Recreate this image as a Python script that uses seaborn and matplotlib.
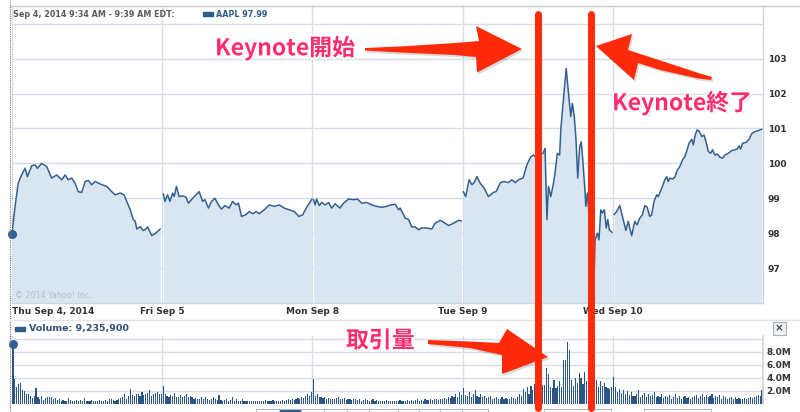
import numpy as np
import pandas as pd
import matplotlib
matplotlib.use("Agg")
import matplotlib.pyplot as plt
import matplotlib.patheffects as pe
from matplotlib.patches import Polygon, Rectangle
from matplotlib.lines import Line2D
import seaborn as sns

# AAPL intraday, Sep 4-10 2014 (minutes after the 9:30 open, price in $)
days = ["Thu Sep 4, 2014", "Fri Sep 5", "Mon Sep 8", "Tue Sep 9", "Wed Sep 10"]

t_thu = [0, 8, 16, 25, 34, 40, 51, 60, 66, 77, 90, 103, 116, 129, 138, 146, 155, 164, 172, 181,
         190, 198, 207, 216, 229, 246, 259, 268, 281, 291, 298, 307, 315, 320, 324, 333, 340, 346,
         352, 363, 372, 385]
p_thu = [97.99, 98.77, 99.43, 99.67, 99.86, 99.62, 99.93, 99.96, 99.86, 100.0, 99.91, 99.58, 99.67,
         99.53, 99.67, 99.53, 99.58, 99.43, 99.19, 99.17, 99.48, 99.51, 99.39, 99.48, 99.41, 99.34,
         99.19, 99.10, 99.15, 99.10, 98.91, 98.67, 98.39, 98.34, 98.12, 98.19, 98.08, 98.10, 98.18,
         97.93, 97.99, 98.12]

t_fri = [3, 7, 14, 20, 27, 31, 37, 44, 53, 62, 68, 79, 96, 105, 111, 120, 128, 137, 146, 154, 163,
         174, 183, 192, 198, 206, 217, 226, 235, 244, 252, 265, 278, 291, 304, 317, 330, 343, 355,
         365, 374, 382, 389]
p_fri = [99.13, 98.91, 99.10, 98.91, 99.15, 99.05, 99.34, 99.05, 99.07, 99.03, 98.86, 99.00, 99.19,
         98.91, 98.96, 98.72, 98.91, 99.00, 98.81, 98.69, 98.79, 98.72, 98.91, 98.81, 98.86, 98.48,
         98.53, 98.62, 98.56, 98.62, 98.56, 98.67, 98.81, 98.77, 98.81, 98.72, 98.67, 98.62, 98.48,
         98.53, 98.72, 98.86, 98.98]

t_mon = [3, 7, 11, 18, 24, 33, 42, 50, 59, 72, 81, 94, 107, 117, 128, 141, 154, 167, 180, 193, 204,
         215, 224, 228, 241, 250, 258, 267, 276, 284, 297, 310, 319, 332, 341, 354, 367, 380, 387]
p_mon = [98.96, 98.81, 98.98, 98.79, 98.88, 98.81, 98.88, 98.72, 98.84, 98.72, 98.86, 98.98, 98.96,
         98.98, 98.86, 98.88, 98.81, 98.77, 98.74, 98.77, 98.81, 98.83, 98.67, 98.72, 98.43, 98.39,
         98.18, 98.18, 98.10, 98.15, 98.15, 98.12, 98.29, 98.37, 98.31, 98.22, 98.29, 98.37, 98.35]

t_tue = [2, 8, 17, 24, 30, 37, 46, 56, 67, 80, 87, 98, 108, 119, 128, 137, 145, 157, 167, 177, 184,
         189, 196, 209, 214, 219, 223, 229, 236, 240, 246, 252, 255, 260, 264, 269, 275, 281, 285,
         290, 294, 299, 304, 308, 312, 317, 320, 324, 332, 337, 342, 344, 350, 354, 359, 363, 368,
         373, 377, 381, 388]
p_tue = [99.19, 99.05, 99.53, 99.39, 99.45, 99.62, 99.43, 99.29, 99.05, 99.17, 99.19, 99.45, 99.48,
         99.45, 99.53, 99.45, 99.53, 99.58, 99.96, 100.19, 100.24, 100.19, 100.25, 100.29, 100.43,
         98.39, 99.34, 99.05, 99.43, 99.72, 100.29, 100.24, 100.96, 101.62, 102.10, 102.72, 102.0,
         101.34, 101.72, 101.34, 100.77, 99.58, 100.48, 100.62, 100.10, 99.34, 98.77, 99.15, 98.0,
         96.77, 96.96, 97.81, 98.0, 97.81, 98.67, 98.58, 98.67, 98.15, 98.39, 98.10, 98.02]

t_wed = [3, 10, 18, 27, 34, 40, 44, 49, 57, 63, 70, 77, 83, 89, 96, 101, 107, 114, 118, 127, 135,
         140, 144, 148, 155, 161, 167, 174, 181, 187, 193, 198, 205, 209, 214, 219, 225, 231, 237,
         242, 248, 254, 259, 265, 271, 278, 285, 291, 300, 309, 317, 323, 328, 332, 337, 346, 354,
         361, 369, 378, 387]
p_wed = [98.53, 98.62, 98.79, 98.39, 98.08, 98.34, 98.15, 97.93, 98.34, 98.24, 98.43, 98.53, 98.79,
         98.75, 98.48, 98.53, 98.91, 99.10, 99.05, 99.29, 99.53, 99.62, 99.48, 99.58, 99.55, 99.60,
         99.79, 99.91, 100.10, 100.19, 100.39, 100.58, 100.69, 100.53, 100.81, 100.96, 100.91,
         100.77, 100.81, 100.62, 100.34, 100.29, 100.39, 100.24, 100.27, 100.18, 100.15, 100.24,
         100.29, 100.37, 100.39, 100.41, 100.50, 100.41, 100.58, 100.60, 100.69, 100.86, 100.91,
         100.94, 100.98]

# 5-minute volume, millions of shares
v_thu = [9.2359, 3.8, 2.6, 3.0, 3.3, 2.2, 2.0, 1.5, 1.6, 1.2, 0.9, 1.3, 2.5, 1.0, 0.8, 1.2, 0.6, 0.9,
         1.0, 1.0, 1.1, 0.8, 0.9, 0.6, 0.7, 0.5, 0.6, 0.5, 0.5, 0.9, 0.6, 0.5, 0.5, 0.6, 0.4, 0.6,
         0.5, 0.9, 0.5, 0.4, 0.5, 0.6, 0.4, 0.4, 0.5, 0.6, 0.5, 0.4, 0.6, 0.5, 0.8, 0.7, 0.6, 0.5,
         0.6, 0.7, 0.9, 1.0, 1.5, 0.8, 1.3, 2.3, 1.4, 1.3, 1.6, 1.5, 1.2, 1.8, 1.4, 1.5, 1.7, 2.2,
         1.3, 1.5, 1.7, 1.9, 1.6, 1.5]
v_fri = [2.8, 1.5, 1.3, 1.1, 1.4, 1.2, 1.7, 1.0, 1.1, 1.4, 1.0, 1.2, 1.5, 1.0, 1.3, 1.1, 0.7, 0.9,
         0.8, 0.7, 1.0, 0.8, 1.1, 0.7, 0.6, 0.8, 1.0, 0.7, 0.6, 1.4, 0.6, 0.5, 0.6, 0.7, 0.5, 0.6,
         1.0, 0.5, 0.8, 0.5, 0.5, 0.7, 0.5, 0.4, 0.5, 0.4, 0.4, 0.4, 0.5, 0.4, 0.4, 0.5, 0.4, 0.6,
         0.5, 0.4, 0.5, 0.6, 0.5, 0.5, 0.4, 0.5, 0.6, 0.5, 0.6, 0.7, 0.6, 0.8, 0.6, 0.7, 0.9, 0.8,
         1.1, 0.9, 1.3, 1.5, 1.2, 1.8]
v_mon = [3.8, 1.2, 1.6, 1.0, 1.1, 0.9, 1.0, 0.8, 0.9, 0.8, 0.7, 0.8, 0.9, 1.0, 0.8, 0.7, 0.9, 0.6,
         0.8, 0.7, 0.6, 0.7, 0.8, 0.6, 0.7, 0.5, 0.6, 0.8, 0.6, 0.5, 0.6, 0.7, 0.5, 0.6, 0.5, 0.5,
         0.4, 0.5, 0.6, 0.5, 0.4, 0.5, 0.5, 0.4, 0.5, 0.6, 0.5, 0.4, 0.5, 0.6, 0.5, 0.6, 0.5, 0.6,
         0.7, 0.5, 0.6, 0.5, 0.7, 0.6, 0.6, 0.7, 0.6, 0.8, 0.7, 0.6, 0.8, 0.7, 0.9, 0.8, 1.0, 0.9,
         1.2, 1.1, 1.5, 1.0, 1.8, 1.4]
v_tue = [2.5, 1.4, 1.2, 1.9, 1.0, 1.6, 2.1, 1.3, 1.1, 1.5, 1.0, 1.2, 0.9, 1.0, 1.3, 0.8, 0.9, 1.1,
         0.8, 0.7, 1.0, 0.8, 0.9, 0.7, 0.8, 1.0, 0.9, 0.8, 1.1, 1.5, 1.2, 2.3, 1.8, 2.6, 1.6, 2.7,
         2.2, 3.0, 2.4, 2.8, 2.6, 2.9, 2.9, 5.5, 4.6, 2.6, 2.5, 3.7, 2.4, 2.8, 3.6, 2.6, 6.8, 6.7,
         9.6, 8.3, 3.7, 2.7, 4.0, 3.3, 4.8, 4.0, 3.0, 4.9, 3.5, 4.2, 4.9, 3.9, 4.9, 3.7, 2.6, 3.5,
         2.7, 3.2, 2.6, 2.4, 2.3, 2.6]
v_wed = [4.2, 2.6, 1.9, 2.3, 1.7, 2.2, 1.5, 2.0, 1.4, 1.8, 1.3, 1.2, 1.6, 2.2, 1.1, 1.4, 1.7, 1.0,
         1.5, 1.2, 1.4, 1.9, 1.0, 1.3, 1.1, 1.6, 0.9, 1.2, 1.0, 1.4, 0.8, 1.1, 1.5, 0.9, 1.2, 0.8,
         1.0, 1.3, 0.9, 1.1, 0.8, 1.0, 1.2, 1.4, 0.9, 1.3, 1.5, 1.1, 1.4, 1.0, 1.2, 1.6, 0.9, 1.3,
         1.1, 1.4, 0.8, 1.2, 1.0, 0.7, 0.9, 1.1, 0.8, 1.0, 0.7, 0.9, 0.8, 0.7, 0.9, 0.8, 0.9, 1.0,
         0.9, 1.1, 1.2, 1.4, 1.3, 2.1]

price_ticks = [97, 98, 99, 100, 101, 102, 103, 104]
vol_ticks = [0, 2, 4, 6, 8, 10]

SESSION = 390  # minutes per trading day

times = [t_thu, t_fri, t_mon, t_tue, t_wed]
prices = [p_thu, p_fri, p_mon, p_tue, p_wed]
vols = [v_thu, v_fri, v_mon, v_tue, v_wed]

price_df = pd.concat([
    pd.DataFrame({"day": i, "x": np.array(t) + i * SESSION, "price": p})
    for i, (t, p) in enumerate(zip(times, prices))
], ignore_index=True)
vol_df = pd.concat([
    pd.DataFrame({"day": i, "x": np.arange(len(v)) * 5 + 2.5 + i * SESSION, "vol": v})
    for i, v in enumerate(vols)
], ignore_index=True)

sns.set_theme(style="white")
plt.rcParams["font.family"] = ["DejaVu Sans"]

W, H = 800, 412
fig = plt.figure(figsize=(W / 100, H / 100), dpi=100)


def fx(x):
    return x / W


def fy(y):
    return 1 - y / H


line_c = "#34608f"
fill_c = "#d9e5f0"
grid_c = "#d5dee7"
tick_c = "#333333"
bar_c = "#2b5585"

# price panel
axp = fig.add_axes([fx(12), fy(303), 751 / W, 297 / H])
axp.set_axisbelow(True)
for i in range(len(days)):
    d = price_df[price_df["day"] == i]
    axp.fill_between(d["x"], 96.0, d["price"], color=fill_c, lw=0, zorder=1)
sns.lineplot(data=price_df, x="x", y="price", units="day", estimator=None,
             color=line_c, lw=1.1, ax=axp, zorder=3)
axp.scatter([t_thu[0]], [p_thu[0]], s=30, color=line_c, zorder=4, clip_on=False)
axp.set_xlim(0, SESSION * len(days))
axp.set_ylim(96.0, 104.51)
axp.set_yticks(price_ticks)
axp.set_yticklabels([str(v) if v < 104 else "" for v in price_ticks])
axp.yaxis.tick_right()
axp.set_xticks([i * SESSION for i in range(len(days))])
axp.set_xticklabels(days)
axp.xaxis.get_majorticklabels()[0].set_horizontalalignment("left")
axp.tick_params(axis="y", length=0, pad=3.5, labelsize=6.5, labelcolor=tick_c)
axp.tick_params(axis="x", length=0, pad=3, labelsize=6.5, labelcolor=tick_c)
for lbl in axp.get_xticklabels() + axp.get_yticklabels():
    lbl.set_fontweight("bold")
axp.grid(True, color=grid_c, lw=1)
axp.set_xlabel("")
axp.set_ylabel("")
for s in ["left", "top"]:
    axp.spines[s].set_visible(False)
for s in ["right", "bottom"]:
    axp.spines[s].set_color("#cdd6df")
    axp.spines[s].set_linewidth(1)
axp.set_facecolor("white")

# volume panel
axv = fig.add_axes([fx(12), fy(404), 751 / W, 68 / H])
axv.set_axisbelow(True)
sns.histplot(data=vol_df, x="x", weights="vol", binwidth=5, binrange=(0, SESSION * len(days)),
             shrink=0.6, color=bar_c, alpha=1, linewidth=0, edgecolor="none", ax=axv, zorder=2)
axv.scatter([vol_df["x"].iloc[0]], [v_thu[0]], s=30, color=line_c, zorder=4, clip_on=False)
axv.set_xlim(0, SESSION * len(days))
axv.set_ylim(0, 10.46)
axv.set_yticks(vol_ticks)
axv.set_yticklabels([f"{v:.1f}M" if 0 < v < 10 else "" for v in vol_ticks])
axv.yaxis.tick_right()
axv.set_xticks([i * SESSION for i in range(len(days))])
axv.set_xticklabels([])
axv.tick_params(axis="y", length=0, pad=2.5, labelsize=6.5, labelcolor=tick_c)
axv.tick_params(axis="x", length=0)
for lbl in axv.get_yticklabels():
    lbl.set_fontweight("bold")
axv.grid(True, color=grid_c, lw=1)
axv.set_xlabel("")
axv.set_ylabel("")
for s in ["left", "top", "bottom"]:
    axv.spines[s].set_visible(False)
axv.spines["right"].set_color("#cdd6df")

# frame lines and headers
fig.add_artist(Line2D([fx(10), fx(800)], [fy(6), fy(6)], color="#c5cbd1", lw=1))
fig.add_artist(Line2D([fx(10), fx(10)], [0, 1], color="#777777", lw=0.8, ls=(0, (1, 1))))
fig.add_artist(Line2D([fx(10), fx(800)], [fy(320), fy(320)], color="#dde3ea", lw=1))

fig.text(fx(13), fy(14.5), "Sep 4, 2014 9:34 AM - 9:39 AM EDT:", fontsize=5.8,
         fontweight="bold", color="#5a5a5a", va="center")
fig.add_artist(Rectangle((fx(203), fy(16)), 10 / W, 3.5 / H, color="#2d5b8a",
                         transform=fig.transFigure))
fig.text(fx(216), fy(14.5), f"AAPL {p_thu[0]:.2f}", fontsize=5.8, fontweight="bold",
         color="#2d5b8a", va="center")
fig.text(fx(15), fy(296), "\u00a9 2014 Yahoo! Inc.", fontsize=5.8, color="#b4bec8",
         va="center")

fig.add_artist(Rectangle((fx(15), fy(330.5)), 10 / W, 4 / H, color="#2d5b8a",
                         transform=fig.transFigure))
fig.text(fx(29), fy(328.5), f"Volume: {round(v_thu[0] * 1e6):,}", fontsize=6.8,
         fontweight="bold", color="#2f4f7a", va="center")

# close button
fig.add_artist(Rectangle((fx(773), fy(335)), 13 / W, 13 / H, facecolor="#eef0f2",
                         edgecolor="#a9b1b9", lw=0.8, transform=fig.transFigure))
fig.text(fx(779.5), fy(328.5), "\u00d7", fontsize=7.5, fontweight="bold", color="#444444",
         ha="center", va="center")

# range buttons at the bottom edge
edges = [256, 279, 301, 324, 347, 369, 398, 419, 440, 462, 488]
for a, b in zip(edges[:-1], edges[1:]):
    fc = "#2d5b8a" if a == 279 else "white"
    fig.add_artist(Rectangle((fx(a), fy(416)), (b - a) / W, 7 / H, facecolor=fc,
                             edgecolor="#b3bac2", lw=0.8, transform=fig.transFigure))
for a, b in [(544, 611), (644, 711)]:
    fig.add_artist(Rectangle((fx(a), fy(416)), (b - a) / W, 7 / H, facecolor="white",
                             edgecolor="#b3bac2", lw=0.8, transform=fig.transFigure))

# red annotations
red = "#ff2a0a"
for xline in [538, 590.5]:
    fig.add_artist(Line2D([fx(xline), fx(xline)], [fy(14), fy(408)], color=red, lw=5,
                          solid_capstyle="round", zorder=20))

arrows = [
    [(365, 48), (400, 46.5), (455, 43), (479, 41), (476, 26), (522, 49), (477, 72.5),
     (476, 57), (455, 55), (400, 52.5), (365, 50.5)],
    [(596, 46), (632, 34), (628, 50), (665, 62), (700, 73.5), (712, 77), (711, 80),
     (698, 78.5), (660, 70), (638, 63), (634, 80)],
    [(428, 340), (470, 341.5), (499, 343), (507, 329), (548, 357), (502, 374),
     (502, 355), (470, 348), (428, 344)],
]
for pts in arrows:
    shadow = [(fx(x + 1.5), fy(y + 2)) for x, y in pts]
    fig.add_artist(Polygon(shadow, closed=True, facecolor="black", alpha=0.15, lw=0,
                           transform=fig.transFigure, zorder=19))
    fig.add_artist(Polygon([(fx(x), fy(y)) for x, y in pts], closed=True, facecolor=red,
                           lw=0, transform=fig.transFigure, zorder=20))

pink = "#ff2d6e"
effects = [pe.SimplePatchShadow(offset=(1.2, -1.2), alpha=0.35),
           pe.Stroke(linewidth=3, foreground="white"), pe.Normal()]
cjk = ["Noto Sans CJK JP", "DejaVu Sans"]
for txt, x, y in [("Keynote開始", 215, 48), ("Keynote終了", 612, 103), ("取引量", 346, 341)]:
    fig.text(fx(x), fy(y), txt, fontsize=16.5, fontweight="bold", color=pink, family=cjk,
             ha="left", va="center", path_effects=effects, zorder=21)

fig.savefig("out.png", dpi=100, facecolor="white")
